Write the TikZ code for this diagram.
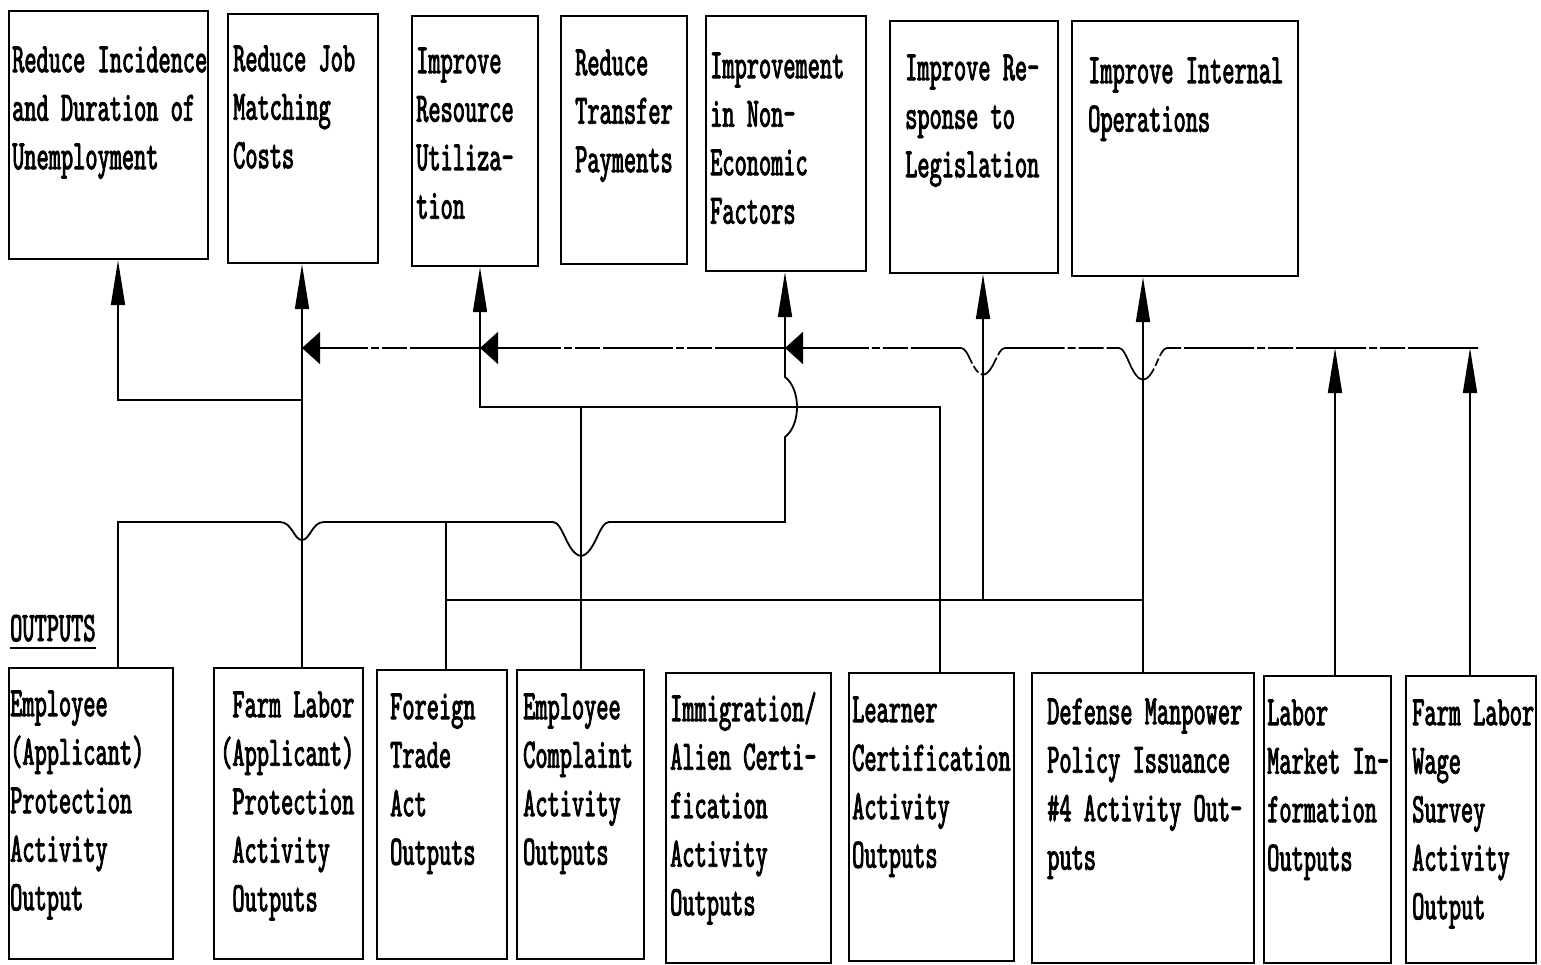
\documentclass[tikz,border=0pt]{standalone}
\usepackage{fontspec}
\usetikzlibrary{arrows.meta,calc}
% condensed typewriter face for all box labels
\newfontfamily\tw{lmmono10-regular.otf}[FakeStretch=0.553,FakeBold=2]

\tikzset{
  box/.style={draw, line width=2.2pt, inner sep=0pt, anchor=north west},
  txt/.style={anchor=north west, inner sep=0pt, align=left,
              font=\tw\fontsize{42pt}{48.5pt}\selectfont},
  wire/.style={line width=1.8pt},
  upa/.style={-{Triangle[length=45pt,width=14pt]}},
  lfa/.style={-{Triangle[length=18pt,width=32pt]}},
  dsh/.style={line width=1.7pt, dash pattern=on 70pt off 3pt on 25pt off 3pt on 8pt off 3pt},
}
\newcommand\gbox[5]{\node[box, minimum width={#4-#2}, minimum height={#5-#3}] (#1) at (#2,#3) {};}
\newcommand\firstline{\rule{0pt}{33pt}}

\begin{document}
\begin{tikzpicture}[x=1pt,y=-1pt]
\useasboundingbox (0,0) rectangle (1541,965);

% ---- goal boxes (top row)
\gbox{t1}{8}{10}{207}{258}
\gbox{t2}{227}{13}{377}{262}
\gbox{t3}{411}{15}{537}{265}
\gbox{t4}{560}{15}{686}{263}
\gbox{t5}{705}{15}{865}{270}
\gbox{t6}{889}{20}{1057}{272}
\gbox{t7}{1071}{20}{1297}{275}

\node[txt] (t1x) at (12,39)   {\firstline Reduce Incidence\\and Duration of\\Unemployment};
\node[txt] (t2x) at (233,38)  {\firstline Reduce Job\\Matching\\Costs};
\node[txt] (t3x) at (416,40)  {\firstline Improve\\Resource\\Utiliza-\\tion};
\node[txt] (t4x) at (575,42)  {\firstline Reduce\\Transfer\\Payments};
\node[txt] (t5x) at (710,45)  {\firstline Improvement\\in Non-\\Economic\\Factors};
\node[txt] (t6x) at (905,47)  {\firstline Improve Re-\\sponse to\\Legislation};
\node[txt] (t7x) at (1088,50) {\firstline Improve Internal\\Operations};

% ---- output boxes (bottom row)
\gbox{b1}{8}{667}{172}{958}
\gbox{b2}{213}{667}{362}{958}
\gbox{b3}{376}{669}{506}{958}
\gbox{b4}{516}{669}{643}{958}
\gbox{b5}{665}{672}{830}{962}
\gbox{b6}{848}{672}{1013}{960}
\gbox{b7}{1031}{672}{1253}{962}
\gbox{b8}{1263}{675}{1390}{962}
\gbox{b9}{1405}{675}{1535}{962}

\node[txt] (b1x) at (10,683)   {\firstline Employee\\(Applicant)\\Protection\\Activity\\Output};
\node[txt] (b2x) at (220,684)  {\firstline\phantom{x}Farm Labor\\(Applicant)\\\phantom{x}Protection\\\phantom{x}Activity\\\phantom{x}Outputs};
\node[txt] (b3x) at (390,686)  {\firstline Foreign\\Trade\\Act\\Outputs};
\node[txt] (b4x) at (523,686)  {\firstline Employee\\Complaint\\Activity\\Outputs};
\node[txt] (b5x) at (670,688)  {\firstline Immigration/\\Alien Certi-\\fication\\Activity\\Outputs};
\node[txt] (b6x) at (852,689)  {\firstline Learner\\Certification\\Activity\\Outputs};
\node[txt] (b7x) at (1047,691) {\firstline Defense Manpower\\Policy Issuance\\\#4 Activity Out-\\puts};
\node[txt] (b8x) at (1267,692) {\firstline Labor\\Market In-\\formation\\Outputs};
\node[txt] (b9x) at (1412,692) {\firstline Farm Labor\\Wage\\Survey\\Activity\\Output};

% ---- section label
\node[txt, anchor=base west] (outl) at (10,641) {OUTPUTS};
\draw[wire] ([yshift=-7pt]outl.base west) -- ([yshift=-7pt]outl.base east);

% ---- routing grid
\coordinate (r1) at (0,348);
\coordinate (r2) at (0,400);
\coordinate (r3) at (0,407);
\coordinate (r4) at (0,522);
\coordinate (r5) at (0,600);
\coordinate (x1) at (118,0);
\coordinate (x2) at (302,0);
\coordinate (x3) at (446,0);
\coordinate (x3t) at (480,0);
\coordinate (x4) at (581,0);
\coordinate (x5) at (785,0);
\coordinate (x6) at (940,0);
\coordinate (x6t) at (983,0);
\coordinate (x7) at (1143,0);
\coordinate (x8) at (1335,0);
\coordinate (x9) at (1470,0);
\coordinate (xe) at (1478,0);

% crossing points where a line hops over another
\coordinate (h1) at (x2 |- r4);
\coordinate (h2) at (x4 |- r4);
\coordinate (h3) at (x5 |- r3);
\coordinate (h4) at (x6t |- r1);
\coordinate (h5) at (x7 |- r1);

% ---- connectors
\draw[wire, upa] (b2.north -| x2) -- (t2.south -| x2);
\draw[wire, upa] (x2 |- r2) -- (x1 |- r2) -- (t1.south -| x1);

\draw[wire, upa] (b6.north -| x6) -- (x6 |- r3) -- (x3t |- r3) -- (t3.south -| x3t);
\draw[wire] (b4.north -| x4) -- (x4 |- r3);

\draw[wire, upa] (b1.north -| x1) -- (x1 |- r4)
  -- ($(h1)+(-22,0)$) .. controls ($(h1)+(-10,0)$) and ($(h1)+(-8,18)$) .. ($(h1)+(0,18)$)
     .. controls ($(h1)+(8,18)$) and ($(h1)+(10,0)$) .. ($(h1)+(22,0)$)
  -- ($(h2)+(-28,0)$) .. controls ($(h2)+(-18,0)$) and ($(h2)+(-14,32)$) .. ($(h2)+(0,34)$)
     .. controls ($(h2)+(14,32)$) and ($(h2)+(18,0)$) .. ($(h2)+(28,0)$)
  -- (x5 |- r4) -- ($(h3)+(0,30)$)
     .. controls ($(h3)+(16,18)$) and ($(h3)+(16,-18)$) .. ($(h3)+(0,-30)$)
  -- (t5.south -| x5);
\draw[wire] (b3.north -| x3) -- (x3 |- r4);

\draw[wire] (x3 |- r5) -- (x7 |- r5);
\draw[wire, upa] (x6t |- r5) -- (t6.south -| x6t);
\draw[wire, upa] (b7.north -| x7) -- (t7.south -| x7);

\draw[wire, upa] (b8.north -| x8) -- (x8 |- r1);
\draw[wire, upa] (b9.north -| x9) -- (x9 |- r1);

\draw[dsh, lfa] (xe |- r1)
  -- ($(h5)+(24,0)$) .. controls ($(h5)+(16,0)$) and ($(h5)+(12,30)$) .. ($(h5)+(0,32)$)
     .. controls ($(h5)+(-12,30)$) and ($(h5)+(-16,0)$) .. ($(h5)+(-24,0)$)
  -- ($(h4)+(22,0)$) .. controls ($(h4)+(14,0)$) and ($(h4)+(11,25)$) .. ($(h4)+(0,27)$)
     .. controls ($(h4)+(-11,25)$) and ($(h4)+(-14,0)$) .. ($(h4)+(-22,0)$)
  -- (x5 |- r1);
\draw[dsh, lfa] (x5 |- r1) -- (x3t |- r1);
\draw[dsh, lfa] (x3t |- r1) -- (x2 |- r1);
\end{tikzpicture}
\end{document}
